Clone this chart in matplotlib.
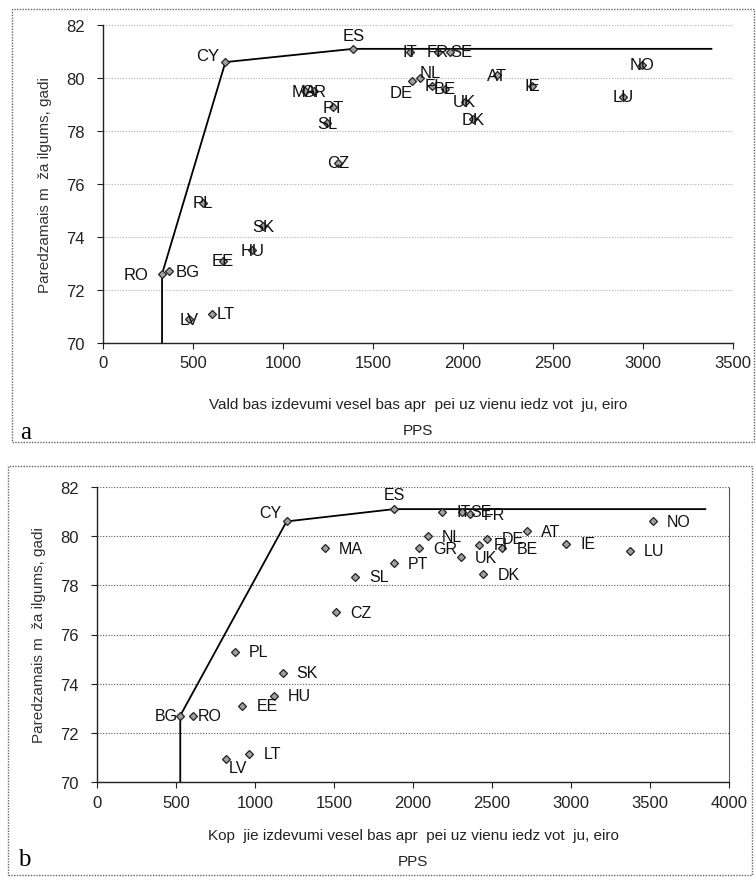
"""Valsts izdevumi veselības aprūpei un paredzamais mūža ilgums (a, b)."""

import matplotlib.pyplot as plt
from matplotlib.patches import Rectangle

plt.rcParams['font.family'] = ['Liberation Sans', 'DejaVu Sans']

DPI = 100
W, H = 756, 878

countries = ["RO", "BG", "LV", "LT", "EE", "HU", "SK", "PL", "CY", "CZ",
             "SL", "PT", "MA", "GR", "ES", "IT", "FR", "SE", "DE", "NL",
             "FI", "BE", "UK", "DK", "AT", "IE", "LU", "NO"]

# a: valdības izdevumi, b: kopējie izdevumi (eiro PPS)
spend_a = [328, 365, 480, 605, 665, 830, 890, 555, 680, 1305,
           1245, 1280, 1120, 1170, 1390, 1705, 1860, 1925, 1715, 1760,
           1830, 1900, 2010, 2055, 2190, 2385, 2890, 2995]
life_a = [72.6, 72.7, 70.9, 71.1, 73.1, 73.5, 74.4, 75.3, 80.6, 76.8,
          78.3, 78.9, 79.5, 79.5, 81.1, 81.0, 81.0, 81.0, 79.9, 80.0,
          79.7, 79.6, 79.1, 78.45, 80.1, 79.7, 79.3, 80.5]

spend_b = [610, 525, 815, 965, 920, 1120, 1175, 875, 1200, 1515,
           1635, 1880, 1440, 2040, 1880, 2185, 2360, 2310, 2470, 2095,
           2420, 2565, 2305, 2445, 2720, 2970, 3375, 3520]
life_b = [72.7, 72.7, 70.95, 71.15, 73.1, 73.5, 74.45, 75.3, 80.6, 76.9,
          78.35, 78.9, 79.5, 79.5, 81.1, 81.0, 80.9, 81.0, 79.9, 80.0,
          79.65, 79.5, 79.15, 78.45, 80.2, 79.7, 79.4, 80.6]

# efektivitātes robeža
frontier_x_a = [328, 328, 680, 1390, 3380]
frontier_y_a = [70, 72.6, 80.6, 81.1, 81.1]
frontier_x_b = [527, 527, 1200, 1880, 3850]
frontier_y_b = [70, 72.7, 80.6, 81.1, 81.1]

xlabel_a = "Vald bas izdevumi vesel bas apr  pei uz vienu iedz vot  ju, eiro\nPPS"
xlabel_b = "Kop  jie izdevumi vesel bas apr  pei uz vienu iedz vot  ju, eiro\nPPS"
ylabel = "Paredzamais m  ža ilgums, gadi"

# label offsets in pixels (dx, dy, ha)
offs_a = {"RO": (-26, 0, "center"), "BG": (19, 0, "center"), "LT": (14, 0, "center"),
          "CY": (-18, 7, "center"), "ES": (0, 13, "center"), "DE": (-11, -12, "center"),
          "NL": (10, 6, "center"), "SE": (12, 0, "center")}
offs_b = {"CY": (-16, 9, "center"), "ES": (0, 15, "center"), "BG": (-2, 0, "right"),
          "RO": (4, 0, "left"), "LV": (3, -9, "left"), "SE": (8, 0, "left")}


def px_axes(left, top, right, bottom):
    return [left / W, 1 - bottom / H, (right - left) / W, (bottom - top) / H]


def draw_panel(fig, rect, xs, ys, fx, fy, xmax, xlabel, offs, default_off,
               lab_size, grid_color, right_spine, xpad):
    ax = fig.add_axes(rect)
    ax.plot(fx, fy, color="black", lw=1.3, zorder=2)
    ax.plot(xs, ys, linestyle="none", marker="D", ms=4.5, mfc="#a0a0a0",
            mec="#222222", mew=0.9, zorder=3)
    for name, x, y in zip(countries, xs, ys):
        dx, dy, ha = offs.get(name, default_off)
        ax.annotate(name, (x, y), xytext=(dx * 0.72, dy * 0.72), textcoords="offset points",
                    ha=ha, va="center", fontsize=lab_size, color="#111111", zorder=4)
    ax.set_xlim(0, xmax)
    ax.set_ylim(70, 82)
    ax.set_xticks(range(0, xmax + 1, 500))
    ax.set_yticks(range(70, 83, 2))
    ax.yaxis.grid(True, color=grid_color, linestyle=(0, (1, 1.5)), lw=0.8)
    ax.set_axisbelow(True)
    for s in ("left", "bottom"):
        ax.spines[s].set_color("#222222")
        ax.spines[s].set_linewidth(1.0)
    ax.spines["top"].set_visible(False)
    ax.spines["right"].set_visible(right_spine)
    if right_spine:
        ax.spines["right"].set_linestyle((0, (1, 1)))
        ax.spines["right"].set_color("#555555")
    ax.tick_params(axis="both", direction="out", length=4, width=0.8,
                   colors="#222222", labelsize=12)
    ax.tick_params(axis="y", pad=9)
    ax.tick_params(axis="x", pad=5)
    ax.set_xlabel(xlabel, fontsize=11, linespacing=2.1, labelpad=xpad, color="#222222")
    ax.set_ylabel(ylabel, fontsize=11, labelpad=10, color="#333333")
    return ax


fig = plt.figure(figsize=(W / DPI, H / DPI), dpi=DPI)

ax_a = draw_panel(fig, px_axes(103, 26, 733, 344), spend_a, life_a,
                  frontier_x_a, frontier_y_a, 3500, xlabel_a, offs_a, (0, 0, "center"),
                  12, "#b0b0b0", False, 19)
ax_b = draw_panel(fig, px_axes(97, 488, 729, 783), spend_b, life_b,
                  frontier_x_b, frontier_y_b, 4000, xlabel_b, offs_b, (14, 0, "left"),
                  11.5, "#555555", True, 13)

# panel frames
for (l, t, r, b) in [(12, 10, 754, 443), (8, 467, 752, 876)]:
    fig.patches.append(Rectangle((l / W, 1 - b / H), (r - l) / W, (b - t) / H,
                                 transform=fig.transFigure, fill=False,
                                 edgecolor="#666666", lw=1.0, linestyle=(0, (1, 1))))

fig.text(20 / W, 1 - 433 / H, "a", family=["Liberation Serif", "DejaVu Serif"],
         fontsize=18, ha="left", va="center")
fig.text(18 / W, 1 - 860 / H, "b", family=["Liberation Serif", "DejaVu Serif"],
         fontsize=18, ha="left", va="center")

fig.savefig("out.png", dpi=DPI, facecolor="white")
